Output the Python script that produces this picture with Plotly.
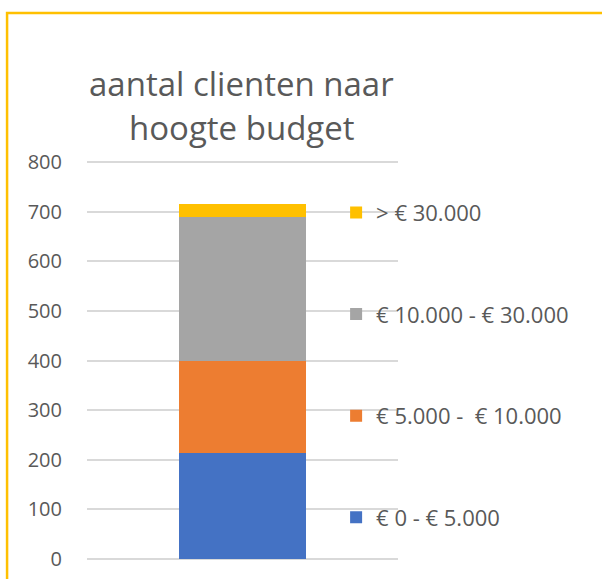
import plotly.graph_objects as go

category = ["aantal"]
series_names = ["€ 0 - € 5.000", "€ 5.000 -  € 10.000", "€ 10.000 - € 30.000", "> € 30.000"]
series_values = [[213], [186], [291], [26]]
series_colors = ["#4472C4", "#ED7D31", "#A5A5A5", "#FFC000"]
title_lines = ["aantal clienten naar", "hoogte budget"]

fig = go.Figure()
for i, (name, vals, col) in enumerate(zip(series_names, series_values, series_colors)):
    fig.add_trace(go.Bar(x=category, y=vals, name=name, marker=dict(color=col, line=dict(width=0)),
                         legendgroup=f"g{i}", legendrank=len(series_names) - i))

fig.update_layout(
    barmode="stack",
    bargap=0.59,
    width=602, height=579,
    margin=dict(l=87, r=204, t=160, b=18, autoexpand=False),
    paper_bgcolor="white", plot_bgcolor="white",
    font=dict(family="Open Sans", color="#595959", size=20),
    xaxis=dict(showticklabels=False, showgrid=False, zeroline=False, showline=False, ticks=""),
    yaxis=dict(range=[-4, 804], tickvals=[0, 100, 200, 300, 400, 500, 600, 700, 800],
               showgrid=True, gridcolor="#D9D9D9", gridwidth=1.5,
               zeroline=False, showline=False, ticks="", tickfont=dict(size=20, color="#595959"),
               ticklabelstandoff=24),
    legend=dict(x=0.801, xanchor="left", y=0.921, yanchor="top", traceorder="grouped",
                tracegroupgap=70, font=dict(size=22, color="#595959"), bgcolor="rgba(0,0,0,0)",
                itemclick=False),
    showlegend=True,
)
for text, ypos in zip(title_lines, [1.192, 1.080]):
    fig.add_annotation(text=text, xref="paper", yref="paper", x=0.497, y=ypos,
                       xanchor="center", yanchor="middle", showarrow=False,
                       font=dict(size=33, family="Open Sans", color="#595959"))
fig.add_shape(type="rect", xref="paper", yref="paper", x0=-0.257, x1=1.7, y0=-0.1, y1=1.3666,
              line=dict(color="#FFC000", width=2.5), fillcolor="rgba(0,0,0,0)", layer="below")
fig.write_html("out.html", config={"displayModeBar": False},
               post_script="document.body.style.margin='0px';")
